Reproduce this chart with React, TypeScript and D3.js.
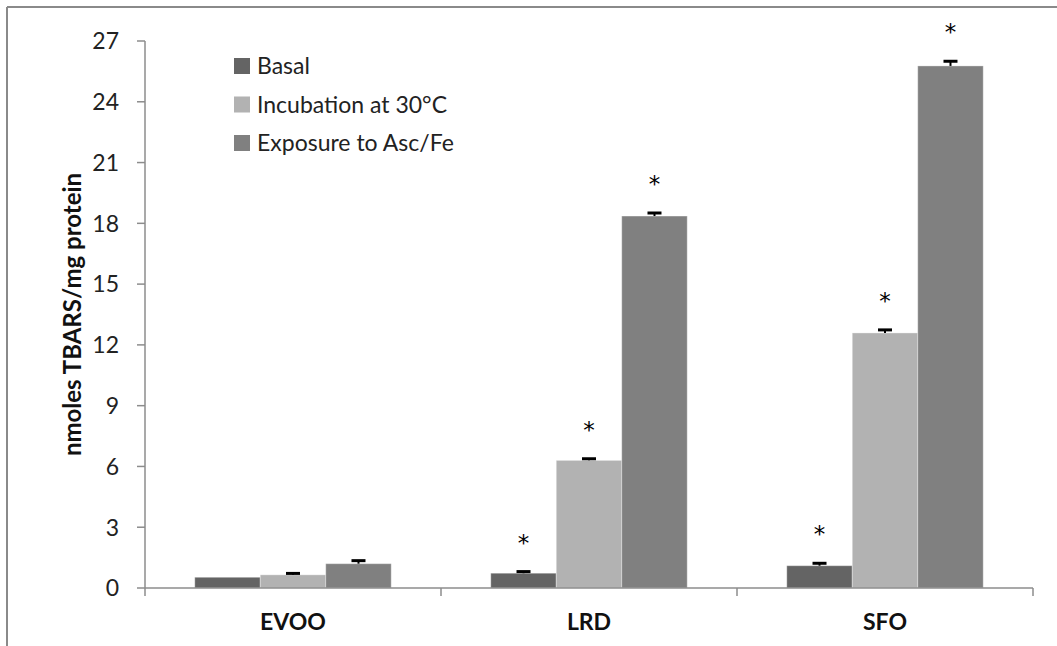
import React from "react";
import * as d3 from "d3";

const categories = ["EVOO", "LRD", "SFO"];
const seriesNames = ["Basal", "Incubation at 30°C", "Exposure to Asc/Fe"];
const basal = [0.53, 0.73, 1.1];
const incubation = [0.65, 6.3, 12.59];
const exposure = [1.2, 18.36, 25.77];
const basalErr = [0.0, 0.08, 0.12];
const incubationErr = [0.07, 0.08, 0.15];
const exposureErr = [0.15, 0.15, 0.23];
const basalSig = [false, true, true];
const incubationSig = [false, true, true];
const exposureSig = [false, true, true];
const yTicks = [0, 3, 6, 9, 12, 15, 18, 21, 24, 27];
const colors = ["#646464", "#b2b2b2", "#808080"];

const W = 1057;
const H = 646;
const FONT = "Lato, 'Open Sans', sans-serif";

export default function App() {
  const x0 = d3.scaleBand<string>().domain(categories).range([145, 1033]).paddingInner(0).paddingOuter(0);
  const x1 = d3.scaleBand<number>().domain([0, 1, 2]).range([0, x0.bandwidth()]).paddingOuter(0.76).paddingInner(0);
  const y = d3.scaleLinear().domain([0, 27]).range([588, 41]);

  const series = [
    { vals: basal, errs: basalErr, sig: basalSig },
    { vals: incubation, errs: incubationErr, sig: incubationSig },
    { vals: exposure, errs: exposureErr, sig: exposureSig },
  ];

  const axisColor = "#8c8c8c";

  return (
    <svg width={W} height={H} style={{ position: "absolute", left: 0, top: 0, background: "#fff" }} fontFamily={FONT}>
      <rect x={0} y={0} width={W} height={H} fill="#fff" />
      {/* outer frame */}
      <line x1={7} y1={7} x2={W} y2={7} stroke="#8a8a8a" strokeWidth={2} />
      <line x1={7} y1={7} x2={7} y2={H} stroke="#8a8a8a" strokeWidth={2} />

      {/* bars */}
      {series.map((s, si) =>
        categories.map((c, ci) => {
          const bx = (x0(c) as number) + (x1(si) as number);
          const bw = x1.bandwidth();
          const v = s.vals[ci];
          return (
            <rect key={`b${si}-${ci}`} x={bx} y={y(v)} width={bw} height={y(0) - y(v)} fill={colors[si]} stroke="#ffffff" strokeOpacity={0.35} strokeWidth={1} />
          );
        })
      )}

      {/* axes */}
      <line x1={145} y1={y(0)} x2={1033} y2={y(0)} stroke={axisColor} strokeWidth={1.5} />
      <line x1={145} y1={y(27)} x2={145} y2={y(0)} stroke={axisColor} strokeWidth={1.5} />
      {yTicks.map((t) => (
        <g key={`yt${t}`}>
          <line x1={137} x2={145} y1={y(t)} y2={y(t)} stroke={axisColor} strokeWidth={1.5} />
          <text x={119} y={y(t)} dy="0.36em" textAnchor="end" fontSize={23} fill="#222">{t}</text>
        </g>
      ))}
      {[...categories.map((c) => x0(c) as number), 1033].map((xv, i) => (
        <line key={`xt${i}`} x1={xv} x2={xv} y1={y(0)} y2={y(0) + 8} stroke={axisColor} strokeWidth={1.5} />
      ))}
      {categories.map((c) => (
        <text key={`xl${c}`} x={(x0(c) as number) + x0.bandwidth() / 2} y={630} textAnchor="middle" fontSize={23} fontWeight="bold" fill="#111">{c}</text>
      ))}

      {/* error bars and asterisks */}
      {series.map((s, si) =>
        categories.map((c, ci) => {
          const cx = (x0(c) as number) + (x1(si) as number) + x1.bandwidth() / 2;
          const v = s.vals[ci];
          const e = s.errs[ci];
          const top = y(v + e);
          return (
            <g key={`e${si}-${ci}`}>
              {e > 0 && <line x1={cx} x2={cx} y1={y(v)} y2={top} stroke="#000" strokeWidth={2} />}
              {e > 0 && <line x1={cx - 7} x2={cx + 7} y1={top} y2={top} stroke="#000" strokeWidth={3} />}
              {s.sig[ci] && (
                <text x={cx} y={top - 21} textAnchor="middle" fontSize={23} fontFamily="'DejaVu Sans', sans-serif" fill="#000">*</text>
              )}
            </g>
          );
        })
      )}

      {/* y axis title */}
      <text transform={`translate(81, ${(y(0) + y(27)) / 2}) rotate(-90)`} textAnchor="middle" fontSize={24} fontWeight="bold" fill="#111">nmoles TBARS/mg protein</text>

      {/* legend */}
      {seriesNames.map((n, i) => (
        <g key={`lg${i}`} transform={`translate(234, ${58 + i * 38.5})`}>
          <rect x={0} y={0} width={16} height={16} fill={colors[i]} />
          <text x={23} y={8} dy="0.36em" fontSize={23} fill="#222">{n}</text>
        </g>
      ))}
    </svg>
  );
}
